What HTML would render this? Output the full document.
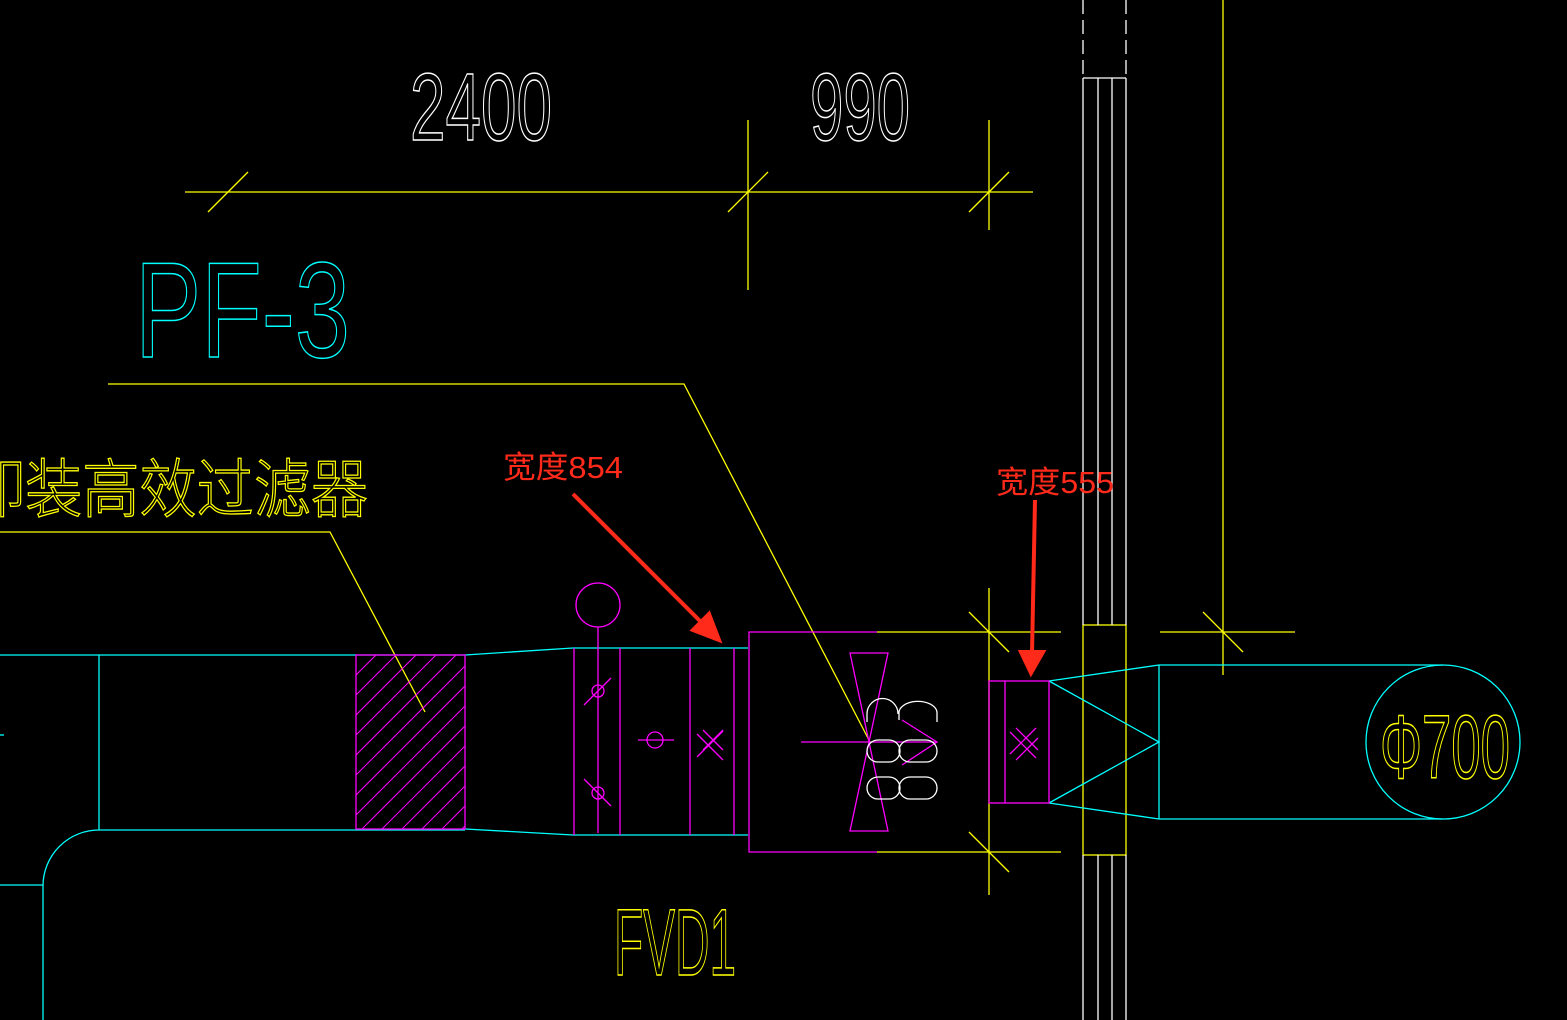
<!DOCTYPE html>
<html><head><meta charset="utf-8"><style>html,body{margin:0;padding:0;background:#000;width:1567px;height:1020px;overflow:hidden}</style></head>
<body>
<svg width="1567" height="1020" viewBox="0 0 1567 1020" xmlns="http://www.w3.org/2000/svg" style="display:block">
<rect width="1567" height="1020" fill="#000"/>
<g fill="none" stroke-width="1.3">
<g stroke="#ffff00">
<line x1="185" y1="192" x2="1033" y2="192"/>
<line x1="748" y1="120" x2="748" y2="290"/>
<line x1="989" y1="120" x2="989" y2="230"/>
<line x1="208" y1="212" x2="248" y2="172"/>
<line x1="728" y1="212" x2="768" y2="172"/>
<line x1="969" y1="212" x2="1009" y2="172"/>
<polyline points="108,384 684,384 870,742"/>
<polyline points="0,532 330,532 425,712"/>
<line x1="877" y1="632" x2="1061" y2="632"/>
<line x1="877" y1="852" x2="1061" y2="852"/>
<line x1="989" y1="588" x2="989" y2="895"/>
<line x1="969" y1="612" x2="1009" y2="652"/>
<line x1="969" y1="832" x2="1009" y2="872"/>
<rect x="1083" y="625" width="43" height="230"/>
<line x1="1223" y1="0" x2="1223" y2="675"/>
<line x1="1160" y1="632" x2="1295" y2="632"/>
<line x1="1203" y1="612" x2="1243" y2="652"/>
</g>
<g stroke="#fff">
<line x1="1083" y1="0" x2="1083" y2="78" stroke-dasharray="14,6"/>
<line x1="1126" y1="0" x2="1126" y2="78" stroke-dasharray="14,6"/>
<line x1="1083" y1="78" x2="1126" y2="78"/>
<line x1="1083" y1="78" x2="1083" y2="625"/>
<line x1="1098" y1="78" x2="1098" y2="625"/>
<line x1="1112" y1="78" x2="1112" y2="625"/>
<line x1="1126" y1="78" x2="1126" y2="625"/>
<line x1="1083" y1="855" x2="1083" y2="1020"/>
<line x1="1098" y1="855" x2="1098" y2="1020"/>
<line x1="1112" y1="855" x2="1112" y2="1020"/>
<line x1="1126" y1="855" x2="1126" y2="1020"/>
</g>
<g stroke="#00ffff">
<line x1="0" y1="655" x2="465" y2="655"/>
<line x1="99" y1="655" x2="99" y2="830"/>
<line x1="99" y1="830" x2="465" y2="830"/>
<path d="M99,830 A56,56 0 0 0 43,886 L43,1020"/>
<line x1="0" y1="885" x2="43" y2="885"/>
<line x1="0" y1="735" x2="4" y2="735"/>
<line x1="465" y1="655" x2="573" y2="648"/>
<line x1="465" y1="829" x2="573" y2="835"/>
<line x1="573" y1="648" x2="748" y2="648"/>
<line x1="573" y1="835" x2="748" y2="835"/>
<line x1="1049" y1="681" x2="1159" y2="665"/>
<line x1="1049" y1="803" x2="1159" y2="819"/>
<polyline points="1049,681 1159,742 1049,803"/>
<line x1="1159" y1="665" x2="1159" y2="819"/>
<line x1="1159" y1="665" x2="1443" y2="665"/>
<line x1="1159" y1="819" x2="1443" y2="819"/>
<circle cx="1443" cy="742" r="77"/>
</g>
<g stroke="#ff00ff">
<rect x="356" y="655" width="109" height="174"/>
<clipPath id="h"><rect x="356" y="655" width="109" height="174"/></clipPath>
<g clip-path="url(#h)" stroke-width="1">
<path d="M356,675 l20,-20 M356,695 l40,-40 M356,715 l60,-60 M356,735 l80,-80 M356,755 l100,-100 M356,775 l120,-120 M356,795 l140,-140 M356,815 l160,-160 M356,835 l180,-180 M376,835 l180,-180 M396,835 l180,-180 M416,835 l180,-180 M436,835 l180,-180 M456,835 l180,-180"/>
</g>
<line x1="574" y1="648" x2="574" y2="835"/>
<line x1="620" y1="648" x2="620" y2="835"/>
<line x1="690" y1="648" x2="690" y2="835"/>
<line x1="734" y1="648" x2="734" y2="835"/>
<circle cx="598" cy="605" r="22"/>
<line x1="598" y1="627" x2="598" y2="833"/>
<circle cx="598" cy="691" r="6"/>
<line x1="584" y1="705" x2="611" y2="678"/>
<circle cx="598" cy="793" r="6"/>
<line x1="584" y1="779" x2="611" y2="806"/>
<circle cx="655" cy="740" r="8"/>
<line x1="638" y1="740" x2="674" y2="740"/>
<path d="M703,730 l20,20 M703,750 l20,-20 M697,734 l26,26 M697,757 l26,-26"/>
<polyline points="877,632 749,632 749,852 877,852"/>
<path d="M850,653 L888,653 L850,831 L888,831 Z"/>
<line x1="801" y1="742" x2="937" y2="742"/>
<polyline points="902,720 937,742 902,765"/>
<rect x="989" y="681" width="60" height="122"/>
<line x1="1005" y1="681" x2="1005" y2="803"/>
<path d="M1010,732 l26,26 M1010,754 l26,-26 M1016,728 l22,22 M1016,760 l22,-22"/>
</g>
<g stroke="#fff">
<rect x="867" y="740" width="33" height="22" rx="11"/>
<rect x="899" y="740" width="38" height="22" rx="11"/>
<rect x="867" y="777" width="33" height="22" rx="11"/>
<rect x="899" y="777" width="38" height="22" rx="11"/>
<path d="M867,722 V714 A11,11 0 0 1 898,714 M899,720 V714 A18,11 0 0 1 937,712 V722"/>
</g>
</g>
<g font-family="'Liberation Sans Narrow','Liberation Sans',sans-serif" fill="none" stroke-width="1.5">
<text x="410" y="140" font-size="96" stroke="#fff" textLength="142" lengthAdjust="spacingAndGlyphs">2400</text>
<text x="810" y="140" font-size="96" stroke="#fff" textLength="100" lengthAdjust="spacingAndGlyphs">990</text>
<text x="135" y="357" font-size="136" stroke="#00ffff" textLength="215" lengthAdjust="spacingAndGlyphs">PF-3</text>
<text x="614" y="975" font-size="95" stroke="#ffff00" textLength="122" lengthAdjust="spacingAndGlyphs">FVD1</text>
<text x="1380" y="778" font-size="90" stroke="#ffff00" textLength="130" lengthAdjust="spacingAndGlyphs">Φ700</text>
</g>
<text x="-32" y="512" font-family="'Liberation Sans','Noto Sans CJK SC',sans-serif" font-size="64" font-weight="300" fill="none" stroke="#ffff00" stroke-width="1.3" textLength="400" lengthAdjust="spacingAndGlyphs">卸装高效过滤器</text>
<g font-family="'Liberation Sans','Noto Sans CJK SC',sans-serif" font-size="31" fill="#ff2a1a">
<text x="503" y="478" textLength="120" lengthAdjust="spacingAndGlyphs">宽度854</text>
<text x="996" y="493" textLength="118" lengthAdjust="spacingAndGlyphs">宽度555</text>
</g>
<g stroke="#ff2a1a" stroke-width="4" fill="#ff2a1a">
<line x1="573" y1="494" x2="705" y2="626"/>
<polygon points="719,640 693,630 709,614"/>
<line x1="1035" y1="500" x2="1032" y2="654"/>
<polygon points="1031,673 1021,652 1043,652"/>
</g>
</svg>
</body></html>
